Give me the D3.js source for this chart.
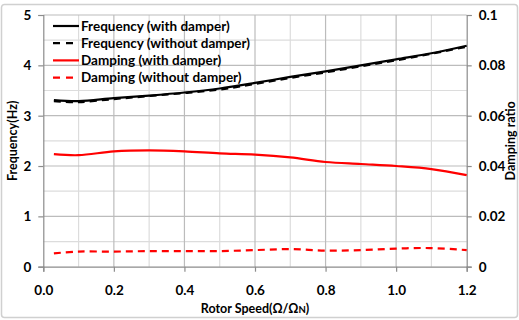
<!DOCTYPE html>
<html><head><meta charset="utf-8">
<script src="https://cdn.jsdelivr.net/npm/d3@7"></script>
<style>body{margin:0;background:#fff;} svg{display:block;font-family:Lato,"Open Sans",sans-serif;}</style>
</head><body><svg id="c" width="519" height="320"></svg>
<script>
const speeds = [0.03,0.1,0.2,0.3,0.4,0.5,0.6,0.7,0.8,0.9,1.0,1.1,1.2];
const freqWith = [3.31,3.29,3.35,3.40,3.46,3.54,3.65,3.77,3.88,4.00,4.12,4.24,4.39];
const freqWithout = [3.29,3.27,3.33,3.39,3.45,3.52,3.63,3.75,3.86,3.98,4.10,4.23,4.37];
const dampWith = [0.0447,0.0443,0.0458,0.0462,0.0458,0.0450,0.0445,0.0434,0.0416,0.0408,0.0400,0.0388,0.0364];
const dampWithout = [0.0053,0.0060,0.0060,0.0062,0.0062,0.0062,0.0066,0.0070,0.0064,0.0066,0.0072,0.0074,0.0066];
const xTicks = [0,0.2,0.4,0.6,0.8,1.0,1.2];
const yTicks = [0,1,2,3,4,5];
const y2Ticks = [0,0.02,0.04,0.06,0.08,0.1];
const legendLabels = ["Frequency (with damper)","Frequency (without damper)","Damping (with damper)","Damping (without damper)"];

const svg = d3.select("#c");
const L=43.3,R=466.7,T=15,B=266.7;
const x = d3.scaleLinear().domain([0,1.2]).range([L,R]);
const y = d3.scaleLinear().domain([0,5]).range([B,T]);
const y2 = d3.scaleLinear().domain([0,0.1]).range([B,T]);

svg.append("rect").attr("x",1.5).attr("y",4.5).attr("width",516).attr("height",313).attr("rx",3)
  .attr("fill","#fff").attr("stroke","#d0d0d0").attr("stroke-width",1.5);

const g = svg.append("g");
d3.range(0.1,1.21,0.2).forEach(v=>{
  g.append("line").attr("x1",x(v)).attr("x2",x(v)).attr("y1",T).attr("y2",B).attr("stroke","#dcdcdc").attr("stroke-width",1.2);
});
d3.range(0.5,5,1).forEach(v=>{
  g.append("line").attr("x1",L).attr("x2",R).attr("y1",y(v)).attr("y2",y(v)).attr("stroke","#dcdcdc").attr("stroke-width",1.2);
});
xTicks.slice(1,-1).forEach(v=>{
  g.append("line").attr("x1",x(v)).attr("x2",x(v)).attr("y1",T).attr("y2",B).attr("stroke","#bcbcbc").attr("stroke-width",1.2);
});
yTicks.slice(1).forEach(v=>{
  g.append("line").attr("x1",L).attr("x2",R).attr("y1",y(v)).attr("y2",y(v)).attr("stroke","#bcbcbc").attr("stroke-width",1.2);
});

const fmtX = d=>d3.format(".1f")(d);
const ax = svg.append("g").attr("transform",`translate(0,${B})`)
  .call(d3.axisBottom(x).tickValues(xTicks).tickFormat(fmtX).tickSize(5).tickPadding(14));
const ay = svg.append("g").attr("transform",`translate(${L},0)`)
  .call(d3.axisLeft(y).tickValues(yTicks).tickFormat(d3.format("d")).tickSize(5).tickPadding(7));
const ay2 = svg.append("g").attr("transform",`translate(${R},0)`)
  .call(d3.axisRight(y2).tickValues(y2Ticks).tickFormat(d=>d===0?"0":d3.format(".2~f")(d)).tickSize(5).tickPadding(7));
[ax,ay,ay2].forEach(a=>{
  a.select(".domain").attr("stroke","#8c8c8c").attr("stroke-width",1.2);
  a.selectAll(".tick line").attr("stroke","#8c8c8c").attr("stroke-width",1.2);
  a.selectAll(".tick text").attr("fill","#000").attr("font-size",13.5).attr("font-weight","bold").attr("font-family","Lato,sans-serif");
});

const line = d3.line().curve(d3.curveCatmullRom.alpha(0.5));
const series = [
  {v:freqWith, s:y, c:"#000", d:null},
  {v:freqWithout, s:y, c:"#000", d:"7,5"},
  {v:dampWith, s:y2, c:"#ff0000", d:null},
  {v:dampWithout, s:y2, c:"#ff0000", d:"7,5"}
];
series.forEach(se=>{
  svg.append("path").attr("d",line(speeds.map((sp,i)=>[x(sp),se.s(se.v[i])])))
    .attr("fill","none").attr("stroke",se.c).attr("stroke-width",2.2)
    .attr("stroke-dasharray",se.d);
});

const lg = svg.append("g");
legendLabels.forEach((t,i)=>{
  const yy = 26 + i*17.2;
  lg.append("line").attr("x1",53).attr("x2",79).attr("y1",yy).attr("y2",yy)
    .attr("stroke",series[i].c).attr("stroke-width",2.2).attr("stroke-dasharray",series[i].d?"7,6":null);
  lg.append("text").attr("x",81).attr("y",yy+4.5).text(t).attr("font-size",13.5).attr("font-weight","bold");
});

svg.append("text").attr("transform",`translate(17,${(T+B)/2}) rotate(-90)`).attr("text-anchor","middle")
  .attr("font-size",12.5).attr("font-weight","bold").text("Frequency(Hz)");
svg.append("text").attr("transform",`translate(515,${(T+B)/2}) rotate(-90)`).attr("text-anchor","middle")
  .attr("font-size",12.5).attr("font-weight","bold").text("Damping ratio");
const xt = svg.append("text").attr("x",(L+R)/2).attr("y",313).attr("text-anchor","middle")
  .attr("font-size",12.5).attr("font-weight","bold");
xt.append("tspan").text("Rotor Speed(Ω/Ω");
xt.append("tspan").attr("font-size",9.5).text("N");
xt.append("tspan").text(")");
</script></body></html>
